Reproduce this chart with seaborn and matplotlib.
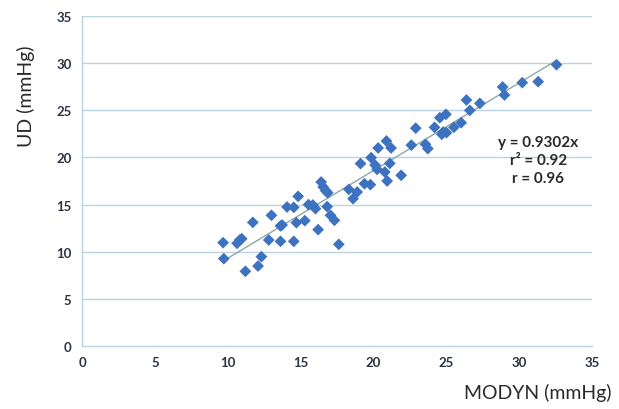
import numpy as np
import pandas as pd
import matplotlib
matplotlib.use("Agg")
import matplotlib.pyplot as plt
import seaborn as sns

# MODYN vs UD readings (mmHg)
modyn = [9.68, 9.73, 10.64, 10.82, 10.96, 11.21, 11.72, 12.08, 12.31, 12.81,
         13.00, 13.62, 13.62, 13.73, 14.07, 14.53, 14.53, 14.71, 14.83, 15.29,
         15.54, 15.84, 16.02, 16.20, 16.41, 16.55, 16.73, 16.86, 16.82, 17.05,
         17.32, 17.62, 18.31, 18.60, 18.88, 19.11, 19.38, 19.79, 19.84, 20.11,
         20.25, 20.32, 20.78, 20.89, 20.94, 21.12, 21.21, 21.90, 22.60, 22.90,
         23.57, 23.73, 24.19, 24.55, 24.69, 24.97, 25.01, 24.78, 25.52, 26.02,
         26.38, 26.61, 27.30, 28.86, 28.99, 30.21, 31.30, 32.56]
ud = [10.96, 9.26, 10.89, 11.24, 11.38, 7.92, 13.11, 8.48, 9.47, 11.24,
      13.86, 11.10, 12.73, 12.83, 14.74, 14.70, 11.10, 13.08, 15.87, 13.29,
      14.99, 14.95, 14.56, 12.34, 17.39, 16.86, 16.44, 16.26, 14.78, 13.86,
      13.33, 10.78, 16.61, 15.62, 16.33, 19.34, 17.21, 17.11, 19.97, 19.19,
      18.73, 21.00, 18.45, 21.74, 17.50, 19.37, 21.00, 18.10, 21.30, 23.10,
      21.39, 20.93, 23.19, 24.21, 22.45, 24.57, 22.62, 22.69, 23.19, 23.68,
      26.09, 24.99, 25.73, 27.47, 26.62, 27.93, 28.03, 29.83]

slope = 0.9302
ticks = [0, 5, 10, 15, 20, 25, 30, 35]

df = pd.DataFrame({"MODYN": modyn, "UD": ud})
fit_x = np.array([min(modyn), max(modyn)])
fit = pd.DataFrame({"MODYN": fit_x, "UD": slope * fit_x})

sns.set_style("white")
plt.rcParams["font.family"] = ["Lato", "DejaVu Sans"]

fig = plt.figure(figsize=(6.19, 4.10), dpi=100)
ax = fig.add_axes([0.1325, 0.1537, 0.8240, 0.8049])

for t in ticks[1:]:
    ax.axhline(t, color="#b9d3e3", linewidth=1.0, zorder=0)

sns.lineplot(data=fit, x="MODYN", y="UD", ax=ax, color="#8aa9a9",
             linewidth=1.0, zorder=2)
sns.scatterplot(data=df, x="MODYN", y="UD", ax=ax, marker="D", s=36,
                color="#3d72c0", edgecolor="none", zorder=3)

ax.set_xlim(0, 35)
ax.set_ylim(0, 35)
ax.set_xticks(ticks)
ax.set_yticks(ticks)
ax.tick_params(axis="both", labelsize=9.5, labelcolor="#2a3440",
               color="#b9d3e3", length=4, width=1, direction="out")
for lab in ax.get_xticklabels() + ax.get_yticklabels():
    lab.set_fontweight("bold")

for side in ["top", "right"]:
    ax.spines[side].set_visible(False)
for side in ["left", "bottom"]:
    ax.spines[side].set_color("#b9d3e3")
    ax.spines[side].set_linewidth(1.0)

ax.set_xlabel("")
ax.set_ylabel("")
ax.text(1.039, -0.14, "MODYN (mmHg)", transform=ax.transAxes,
        ha="right", va="center", fontsize=14, color="#2a2a2a")
ax.text(-0.11, 0.76, "UD (mmHg)", transform=ax.transAxes, rotation=90,
        ha="center", va="center", fontsize=14, color="#2a2a2a")

ax.text(31.3, 19.7, "y = 0.9302x\nr² = 0.92\nr = 0.96", ha="center",
        va="center", fontsize=11, fontweight="bold", color="#2a2a2a",
        linespacing=1.35)

fig.savefig("out.png", dpi=100)
